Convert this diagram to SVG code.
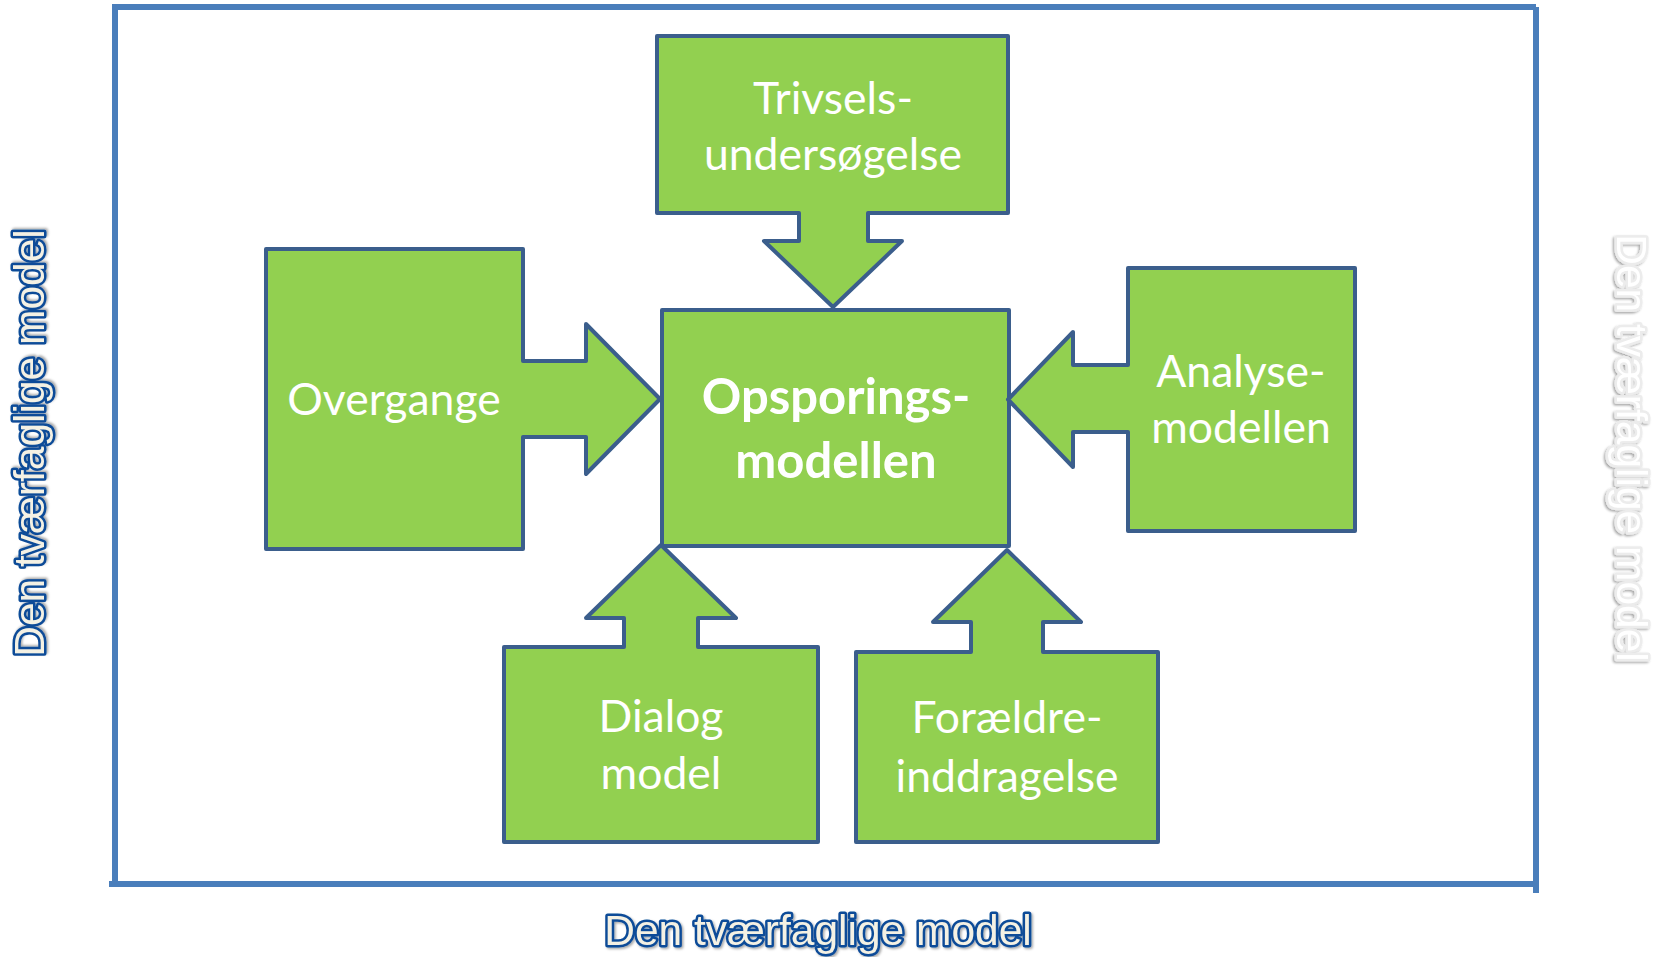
<svg xmlns="http://www.w3.org/2000/svg" width="1655" height="957" viewBox="0 0 1655 957">
  <defs>
    <filter id="shadow" x="-10%" y="-10%" width="120%" height="130%">
      <feDropShadow dx="1.5" dy="1.5" stdDeviation="1.2" flood-color="#000" flood-opacity="0.35"/>
    </filter>
    <style>
      .node { fill: #92d050; stroke: #3b5e8c; stroke-width: 4; stroke-linejoin: round; }
      .frame { stroke: #4a7ebb; stroke-width: 6; fill: none; }
      .lbl { font-family: Lato, "Open Sans", "Liberation Sans", sans-serif; fill: #ffffff; text-anchor: middle; font-size: 44.5px; }
      .bold { font-weight: bold; font-size: 49px; }
      .side { font-family: "Liberation Sans", Arial, sans-serif; font-size: 42.5px; text-anchor: middle; paint-order: stroke; stroke-linejoin: round; }
      .blue { fill: #f4f1e4; stroke: #0d4c98; stroke-width: 5; }
      .white { fill: #ffffff; stroke: #ececec; stroke-width: 5; }
    </style>
  </defs>
  <rect width="1655" height="957" fill="#ffffff"/>

  <g id="frame">
    <line class="frame" x1="112" y1="7" x2="1536" y2="7"/>
    <line class="frame" x1="115" y1="7" x2="115" y2="884"/>
    <line class="frame" x1="1536" y1="7" x2="1536" y2="893"/>
    <line class="frame" x1="109" y1="884" x2="1539" y2="884"/>
  </g>

  <g id="connectors"></g>

  <g id="node-opsporing">
    <rect class="node" x="662" y="310" width="347" height="236"/>
    <text class="lbl bold" x="836" y="414">Opsporings-</text>
    <text class="lbl bold" x="836" y="478">modellen</text>
  </g>

  <g id="node-trivsel">
    <path class="node" d="M657,36 H1008 V213 H868 V241 H902 L833,307 L764,241 H799 V213 H657 Z"/>
    <text class="lbl" x="833" y="114">Trivsels-</text>
    <text class="lbl" x="833" y="170">undersøgelse</text>
  </g>

  <g id="node-overgange">
    <path class="node" d="M266,249 H523 V361 H586 V324 L660,399 L586,474 V437 H523 V549 H266 Z"/>
    <text class="lbl" x="394" y="415">Overgange</text>
  </g>

  <g id="node-analyse">
    <path class="node" d="M1128,268 H1355 V531 H1128 V432 H1073 V467 L1008,399.5 L1073,332 V365 H1128 Z"/>
    <text class="lbl" x="1241" y="387">Analyse-</text>
    <text class="lbl" x="1241" y="443">modellen</text>
  </g>

  <g id="node-dialog">
    <path class="node" d="M504,647 H624 V618 H586 L661,545 L736,618 H698 V647 H818 V842 H504 Z"/>
    <text class="lbl" x="661" y="732">Dialog</text>
    <text class="lbl" x="661" y="789">model</text>
  </g>

  <g id="node-foraeldre">
    <path class="node" d="M856,652 H971 V622 H933 L1007,550 L1081,622 H1043 V652 H1158 V842 H856 Z"/>
    <text class="lbl" x="1007" y="733">Forældre-</text>
    <text class="lbl" x="1007" y="792">inddragelse</text>
  </g>

  <g id="side-labels">
    <text class="side blue" filter="url(#shadow)" transform="translate(44,443) rotate(-90)">Den tværfaglige model</text>
    <text class="side blue" filter="url(#shadow)" x="818" y="945">Den tværfaglige model</text>
    <text class="side white" filter="url(#shadow)" transform="translate(1617,448) rotate(90)">Den tværfaglige model</text>
  </g>
</svg>
